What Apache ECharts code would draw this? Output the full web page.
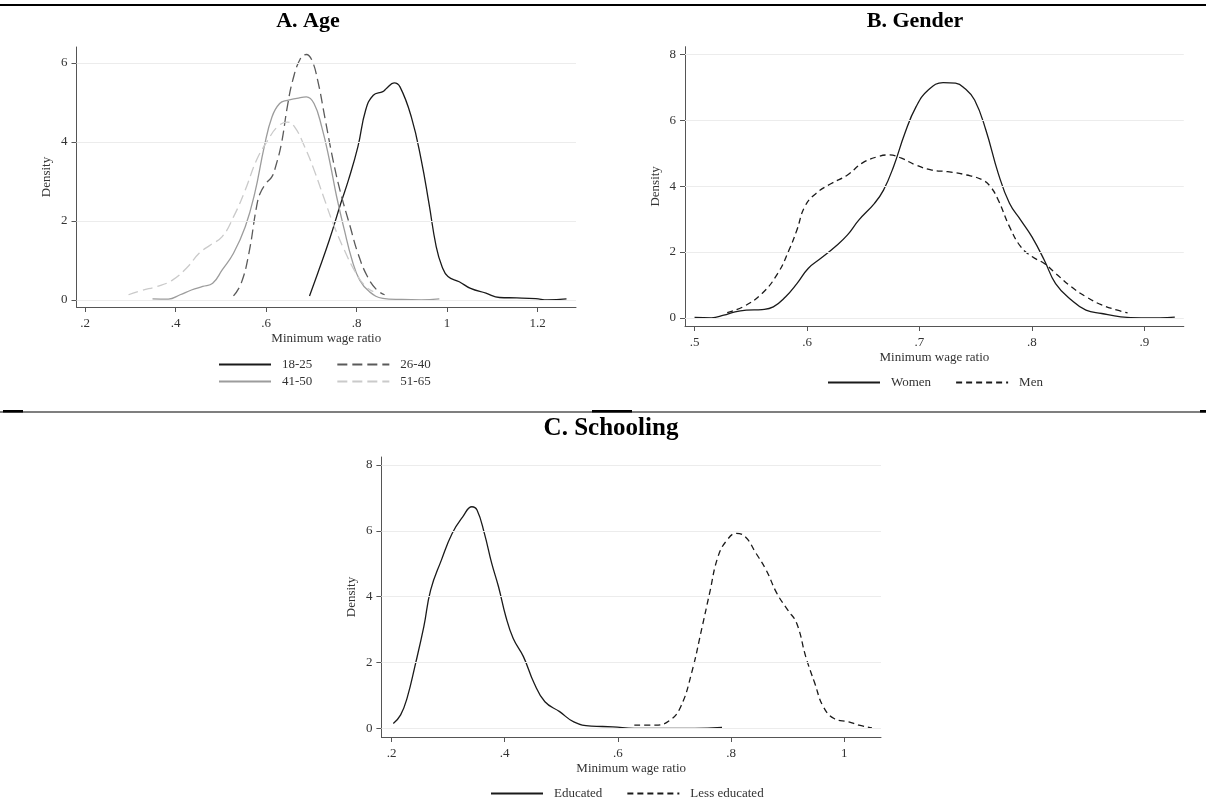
<!DOCTYPE html>
<html>
<head>
<meta charset="utf-8">
<script src="https://cdn.jsdelivr.net/npm/echarts@6/dist/echarts.min.js"></script>
<style>
  html, body { margin: 0; padding: 0; background: #fff; }
  #chart { width: 1206px; height: 799px; }
</style>
</head>
<body>
<div id="chart"></div>
<script>
// tick labels
var yTicksA = [0, 2, 4, 6];
var yTicksBC = [0, 2, 4, 6, 8];
var xTicksA = [0.2, 0.4, 0.6, 0.8, 1, 1.2];
var xTicksB = [0.5, 0.6, 0.7, 0.8, 0.9];
var xTicksC = [0.2, 0.4, 0.6, 0.8, 1];

// A. Age  [ratio, density]
var age1825 = [[0.696, 0.10], [0.714, 0.67], [0.74, 1.52], [0.765, 2.44], [0.782, 3.03], [0.803, 3.88],
    [0.82, 4.80], [0.837, 5.18], [0.858, 5.27], [0.866, 5.35], [0.883, 5.49], [0.896, 5.39], [0.921, 4.63],
    [0.943, 3.54], [0.96, 2.44], [0.976, 1.35], [0.989, 0.84], [1.002, 0.59], [1.027, 0.46], [1.052, 0.29],
    [1.086, 0.17], [1.116, 0.06], [1.154, 0.05], [1.196, 0.03], [1.222, 0.00], [1.264, 0.025]];
var age2640 = [[0.528, 0.10], [0.545, 0.42], [0.562, 1.18], [0.579, 2.36], [0.587, 2.70], [0.60, 2.95],
    [0.613, 3.12], [0.621, 3.37], [0.634, 3.96], [0.647, 4.89], [0.659, 5.56], [0.676, 6.11], [0.689, 6.21],
    [0.701, 6.07], [0.714, 5.56], [0.731, 4.55], [0.748, 3.54], [0.765, 2.70], [0.786, 1.85], [0.803, 1.18],
    [0.824, 0.59], [0.845, 0.25], [0.862, 0.13]];
var age4150 = [[0.349, 0.025], [0.384, 0.02], [0.41, 0.13], [0.435, 0.25], [0.46, 0.34], [0.482, 0.42],
    [0.503, 0.76], [0.528, 1.18], [0.554, 1.85], [0.575, 2.70], [0.596, 3.88], [0.613, 4.63], [0.63, 4.97],
    [0.647, 5.05], [0.668, 5.10], [0.689, 5.14], [0.706, 4.97], [0.723, 4.38], [0.74, 3.54], [0.756, 2.61],
    [0.773, 1.77], [0.79, 1.01], [0.807, 0.50], [0.828, 0.21], [0.858, 0.04], [0.90, 0.01], [0.943, 0.00],
    [0.983, 0.025]];
var age5165 = [[0.296, 0.13], [0.325, 0.24], [0.359, 0.34], [0.393, 0.50], [0.427, 0.84], [0.452, 1.18],
    [0.477, 1.39], [0.503, 1.60], [0.528, 2.10], [0.554, 2.78], [0.579, 3.54], [0.604, 4.04], [0.625, 4.38],
    [0.647, 4.50], [0.663, 4.38], [0.685, 3.88], [0.706, 3.29], [0.727, 2.61], [0.748, 1.94], [0.773, 1.26],
    [0.799, 0.67], [0.82, 0.34], [0.837, 0.21]];

// B. Gender
var women = [[0.50, 0.01], [0.515, 0.00], [0.526, 0.08], [0.536, 0.18], [0.546, 0.23], [0.56, 0.25],
    [0.57, 0.33], [0.581, 0.64], [0.591, 1.04], [0.601, 1.50], [0.612, 1.80], [0.625, 2.16], [0.636, 2.52],
    [0.646, 2.97], [0.66, 3.48], [0.668, 3.88], [0.677, 4.60], [0.687, 5.61], [0.697, 6.42], [0.708, 6.93],
    [0.721, 7.15], [0.732, 7.13], [0.74, 6.98], [0.749, 6.62], [0.759, 5.71], [0.77, 4.39], [0.78, 3.48],
    [0.79, 2.97], [0.80, 2.46], [0.811, 1.75], [0.821, 1.04], [0.835, 0.54], [0.848, 0.23], [0.862, 0.13],
    [0.879, 0.03], [0.897, 0.00], [0.914, 0.00], [0.927, 0.02]];
var men = [[0.529, 0.16], [0.543, 0.33], [0.56, 0.74], [0.574, 1.35], [0.584, 2.06], [0.591, 2.67],
    [0.598, 3.38], [0.608, 3.78], [0.622, 4.09], [0.636, 4.34], [0.649, 4.70], [0.663, 4.90], [0.673, 4.95],
    [0.684, 4.85], [0.697, 4.64], [0.711, 4.49], [0.725, 4.44], [0.742, 4.34], [0.756, 4.19], [0.763, 3.99],
    [0.77, 3.58], [0.78, 2.77], [0.79, 2.16], [0.80, 1.86], [0.811, 1.65], [0.821, 1.35], [0.835, 0.94],
    [0.848, 0.64], [0.862, 0.39], [0.876, 0.23], [0.885, 0.15]];

// C. Schooling
var educated = [[0.203, 0.15], [0.216, 0.41], [0.228, 0.96], [0.241, 1.87], [0.257, 3.09], [0.269, 4.20],
    [0.288, 5.11], [0.307, 5.92], [0.326, 6.43], [0.342, 6.73], [0.351, 6.63], [0.364, 5.92], [0.377, 5.01],
    [0.389, 4.30], [0.402, 3.39], [0.415, 2.73], [0.433, 2.18], [0.452, 1.37], [0.471, 0.81], [0.497, 0.51],
    [0.522, 0.20], [0.553, 0.07], [0.591, 0.05], [0.629, 0.00], [0.673, 0.00], [0.736, 0.00], [0.784, 0.03]];
var lessEducated = [[0.629, 0.10], [0.667, 0.10], [0.692, 0.25], [0.711, 0.66], [0.73, 1.67], [0.749, 3.09],
    [0.762, 4.10], [0.777, 5.22], [0.793, 5.72], [0.809, 5.92], [0.825, 5.82], [0.844, 5.32], [0.862, 4.81],
    [0.881, 4.10], [0.90, 3.60], [0.916, 3.19], [0.932, 2.18], [0.948, 1.37], [0.963, 0.66], [0.982, 0.30],
    [1.008, 0.20], [1.026, 0.10], [1.049, 0.02]];

var serif = 'Liberation Serif';
var axisColor = '#555';
var textColor = '#333';

function tickText(v) {
    return String(v).replace(/^0\./, '.');
}

function xAxisOf(idx, min, max, ticks) {
    return {
        type: 'value', gridIndex: idx, min: min, max: max,
        name: 'Minimum wage ratio', nameLocation: 'middle', nameGap: 25,
        nameTextStyle: {fontFamily: serif, fontSize: 13, color: textColor},
        axisLine: {onZero: false, lineStyle: {color: axisColor, width: 1}},
        axisTick: {show: true, length: 5, lineStyle: {color: axisColor}, customValues: ticks},
        axisLabel: {fontFamily: serif, fontSize: 13, color: textColor, margin: 10,
            customValues: ticks, formatter: tickText},
        splitLine: {show: false}
    };
}

function yAxisOf(idx, min, max, ticks) {
    return {
        type: 'value', gridIndex: idx, min: min, max: max,
        name: 'Density', nameLocation: 'middle', nameGap: 23,
        nameTextStyle: {fontFamily: serif, fontSize: 13, color: textColor},
        axisLine: {show: true, onZero: false, lineStyle: {color: axisColor, width: 1}},
        axisTick: {show: true, length: 5, lineStyle: {color: axisColor}, customValues: ticks},
        axisLabel: {fontFamily: serif, fontSize: 13, color: textColor, margin: 9, customValues: ticks},
        splitLine: {show: false}
    };
}

function gridLines(ticks) {
    return {
        silent: true, symbol: ['none', 'none'], animation: false,
        label: {show: false},
        lineStyle: {type: 'solid', color: '#ececec', width: 1},
        data: ticks.map(function (v) { return {yAxis: v}; })
    };
}

function curve(name, idx, data, color, dash, withGrid) {
    var s = {
        name: name, type: 'line', xAxisIndex: idx, yAxisIndex: idx,
        data: data, smooth: 0.45, showSymbol: false, symbol: 'none',
        lineStyle: {color: color, width: 1.3, type: dash},
        itemStyle: {color: color},
        z: 3
    };
    if (withGrid) {
        s.markLine = gridLines(withGrid);
    }
    return s;
}

function legendOf(names, left, top) {
    return {
        data: names, left: left, top: top, orient: 'horizontal',
        itemWidth: 52, itemHeight: 10, itemGap: 24, padding: 0,
        itemStyle: {opacity: 0},
        textStyle: {fontFamily: serif, fontSize: 13, color: textColor, padding: [0, 0, 0, 6]}
    };
}

var titleStyle = {fontFamily: serif, fontWeight: 'bold', color: '#000'};

var myChart = echarts.init(document.getElementById('chart'));
myChart.setOption({
    backgroundColor: '#fff',
    animation: false,
    title: [
        {text: 'A. Age', left: 308, top: 10, textAlign: 'center', padding: 0,
            textStyle: Object.assign({fontSize: 22}, titleStyle)},
        {text: 'B. Gender', left: 915, top: 10, textAlign: 'center', padding: 0,
            textStyle: Object.assign({fontSize: 22}, titleStyle)},
        {text: 'C. Schooling', left: 611, top: 416, textAlign: 'center', padding: 0,
            textStyle: Object.assign({fontSize: 25}, titleStyle)}
    ],
    legend: [
        legendOf(['18-25', '26-40'], 218, 358),
        legendOf(['41-50', '51-65'], 218, 375),
        legendOf(['Women', 'Men'], 827, 376),
        legendOf(['Educated', 'Less educated'], 490, 787)
    ],
    grid: [
        {left: 76.5, top: 47, width: 499.5, height: 260, containLabel: false},
        {left: 685, top: 46.7, width: 498.8, height: 279.3, containLabel: false},
        {left: 381.4, top: 457, width: 499.6, height: 280, containLabel: false}
    ],
    xAxis: [
        xAxisOf(0, 0.181, 1.285, xTicksA),
        xAxisOf(1, 0.4915, 0.935, xTicksB),
        xAxisOf(2, 0.182, 1.065, xTicksC)
    ],
    yAxis: [
        yAxisOf(0, -0.18, 6.4, yTicksA),
        yAxisOf(1, -0.25, 8.24, yTicksBC),
        yAxisOf(2, -0.26, 8.24, yTicksBC)
    ],
    graphic: [
        {type: 'rect', shape: {x: 0, y: 4, width: 1206, height: 2}, style: {fill: '#000'}},
        {type: 'rect', shape: {x: 0, y: 411.5, width: 1206, height: 1}, style: {fill: '#000'}},
        {type: 'rect', shape: {x: 3, y: 410, width: 20, height: 2.5}, style: {fill: '#000'}},
        {type: 'rect', shape: {x: 592, y: 410, width: 40, height: 2.5}, style: {fill: '#000'}},
        {type: 'rect', shape: {x: 1200, y: 410, width: 6, height: 2.5}, style: {fill: '#000'}}
    ],
    series: [
        curve('18-25', 0, age1825, '#1a1a1a', 'solid', yTicksA),
        curve('26-40', 0, age2640, '#5a5a5a', [10, 5]),
        curve('41-50', 0, age4150, '#9c9c9c', 'solid'),
        curve('51-65', 0, age5165, '#cacaca', [10, 5]),
        curve('Women', 1, women, '#1a1a1a', 'solid', yTicksBC),
        curve('Men', 1, men, '#1a1a1a', [6, 4]),
        curve('Educated', 2, educated, '#1a1a1a', 'solid', yTicksBC),
        curve('Less educated', 2, lessEducated, '#1a1a1a', [6, 4])
    ]
});
</script>
</body>
</html>
